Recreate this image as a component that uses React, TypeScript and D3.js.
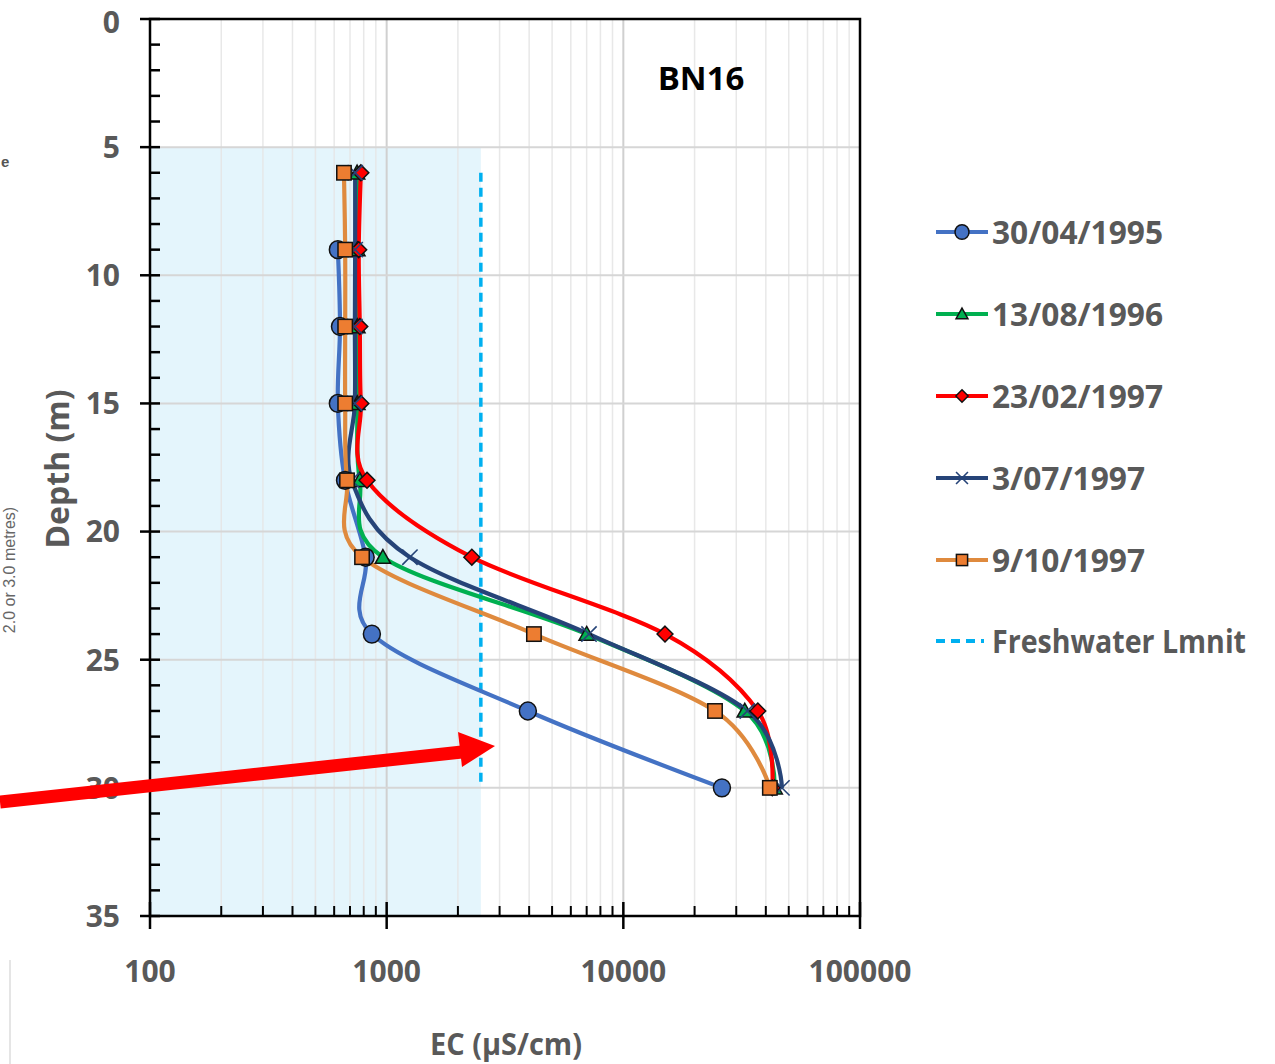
import React, { useEffect, useRef } from "react";
import * as d3 from "d3";

// depth of each sample (m)
const depths = [6, 9, 12, 15, 18, 21, 24, 27, 30];

// EC readings (uS/cm) per sampling date
const ec19950430 = [null, 622, 635, 622, 667, 815, 866, 3950, 26100];
const ec19960813 = [750, 752, 752, 752, 770, 964, 7000, 32600, 43600];
const ec19970223 = [778, 762, 770, 778, 826, 2290, 15000, 37000, 42600];
const ec19970703 = [736, 736, 734, 734, 712, 1254, 7160, 33400, 46800];
const ec19971009 = [660, 668, 668, 668, 680, 787, 4190, 24400, 41600];

const seriesNames = ["30/04/1995", "13/08/1996", "23/02/1997", "3/07/1997", "9/10/1997"];
const freshwaterLimit = 2500;
const freshwaterDepths = [6, 30];
const shadeDepths = [5, 35];

const xTickLabels = [100, 1000, 10000, 100000];
const yTickLabels = [0, 5, 10, 15, 20, 25, 30, 35];

const font = "'Open Sans', sans-serif";

export default function App() {
  const ref = useRef<SVGSVGElement>(null);

  useEffect(() => {
    const svg = d3.select(ref.current);
    svg.selectAll("*").remove();

    const left = 150, right = 860, top = 19, bottom = 916;

    const x = d3.scaleLog().domain([100, 100000]).range([left, right]);
    const y = d3.scaleLinear().domain([0, 35]).range([top, bottom]);

    // shaded freshwater zone
    svg.append("rect")
      .attr("x", x(100))
      .attr("y", y(shadeDepths[0]))
      .attr("width", x(freshwaterLimit) - x(100))
      .attr("height", y(shadeDepths[1]) - y(shadeDepths[0]))
      .attr("fill", "#e4f5fc");

    // vertical gridlines
    const minor: number[] = [];
    for (let d = 100; d < 100000; d *= 10) {
      for (let k = 2; k <= 9; k++) minor.push(d * k);
    }
    svg.append("g").selectAll("line")
      .data(minor)
      .enter().append("line")
      .attr("x1", (d) => x(d)).attr("x2", (d) => x(d))
      .attr("y1", top).attr("y2", bottom)
      .attr("stroke", "#e6e6e6")
      .attr("stroke-opacity", 0.9)
      .attr("stroke-width", 1.5);
    svg.append("g").selectAll("line")
      .data([1000, 10000])
      .enter().append("line")
      .attr("x1", (d) => x(d)).attr("x2", (d) => x(d))
      .attr("y1", top).attr("y2", bottom)
      .attr("stroke", "#d0d0d0")
      .attr("stroke-width", 2);

    // horizontal gridlines
    svg.append("g").selectAll("line")
      .data(yTickLabels.slice(1, -1))
      .enter().append("line")
      .attr("x1", left).attr("x2", right)
      .attr("y1", (d) => y(d)).attr("y2", (d) => y(d))
      .attr("stroke", "#d6d6d6")
      .attr("stroke-width", 2);

    // freshwater limit line
    svg.append("line")
      .attr("x1", x(freshwaterLimit)).attr("x2", x(freshwaterLimit))
      .attr("y1", y(freshwaterDepths[0])).attr("y2", y(freshwaterDepths[1]))
      .attr("stroke", "#00b0f0")
      .attr("stroke-width", 3.5)
      .attr("stroke-dasharray", "9,6");

    // frame
    svg.append("rect")
      .attr("x", left).attr("y", top)
      .attr("width", right - left).attr("height", bottom - top)
      .attr("fill", "none")
      .attr("stroke", "#000")
      .attr("stroke-width", 2.5);

    // y ticks
    const yMinor = d3.range(1, 35).filter((d) => d % 5 !== 0);
    svg.append("g").selectAll("line")
      .data(yMinor)
      .enter().append("line")
      .attr("x1", left).attr("x2", left + 10)
      .attr("y1", (d) => y(d)).attr("y2", (d) => y(d))
      .attr("stroke", "#000").attr("stroke-width", 2.5);
    svg.append("g").selectAll("line")
      .data(yTickLabels)
      .enter().append("line")
      .attr("x1", left - 10).attr("x2", left + 10)
      .attr("y1", (d) => y(d)).attr("y2", (d) => y(d))
      .attr("stroke", "#000").attr("stroke-width", 2.5);
    svg.append("g").selectAll("text")
      .data(yTickLabels)
      .enter().append("text")
      .attr("x", left - 30)
      .attr("y", (d) => (d === 0 ? y(d) + 3 : y(d)))
      .attr("dy", "0.36em")
      .attr("text-anchor", "end")
      .attr("font-family", font)
      .attr("font-weight", "bold")
      .attr("font-size", 30)
      .attr("fill", "#595959")
      .text((d) => d);

    // x ticks
    svg.append("g").selectAll("line")
      .data(minor)
      .enter().append("line")
      .attr("x1", (d) => x(d)).attr("x2", (d) => x(d))
      .attr("y1", bottom - 10).attr("y2", bottom)
      .attr("stroke", "#000").attr("stroke-width", 2);
    svg.append("g").selectAll("line")
      .data(xTickLabels)
      .enter().append("line")
      .attr("x1", (d) => x(d)).attr("x2", (d) => x(d))
      .attr("y1", bottom - 14).attr("y2", bottom + 13)
      .attr("stroke", "#000").attr("stroke-width", 2.5);
    svg.append("g").selectAll("text")
      .data(xTickLabels)
      .enter().append("text")
      .attr("x", (d) => x(d))
      .attr("y", 982)
      .attr("text-anchor", "middle")
      .attr("font-family", font)
      .attr("font-weight", "bold")
      .attr("font-size", 30)
      .attr("fill", "#595959")
      .text((d) => d);

    // axis titles
    svg.append("text")
      .attr("x", 430).attr("y", 1055)
      .attr("textLength", 152).attr("lengthAdjust", "spacingAndGlyphs")
      .attr("font-family", font).attr("font-weight", "bold")
      .attr("font-size", 31).attr("fill", "#595959")
      .text("EC (µS/cm)");
    svg.append("text")
      .attr("transform", "translate(69,469) rotate(-90)")
      .attr("text-anchor", "middle")
      .attr("font-family", font).attr("font-weight", "bold")
      .attr("font-size", 32).attr("fill", "#595959")
      .text("Depth (m)");

    // chart label
    svg.append("text")
      .attr("x", 701).attr("y", 90)
      .attr("text-anchor", "middle")
      .attr("font-family", font).attr("font-weight", "bold")
      .attr("font-size", 33).attr("fill", "#000")
      .text("BN16");

    const series = [
      { name: seriesNames[0], values: ec19950430, line: "#4472c4", fill: "#4472c4", marker: "circle" },
      { name: seriesNames[1], values: ec19960813, line: "#00b050", fill: "#00b050", marker: "triangle" },
      { name: seriesNames[2], values: ec19970223, line: "#ff0000", fill: "#ff0000", marker: "diamond" },
      { name: seriesNames[3], values: ec19970703, line: "#264478", fill: "#264478", marker: "cross" },
      { name: seriesNames[4], values: ec19971009, line: "#df8a3e", fill: "#ed7d31", marker: "square" },
    ];

    const lineGen = d3.line<[number, number]>()
      .x((d) => x(d[0]))
      .y((d) => y(d[1]))
      .curve(d3.curveCatmullRom.alpha(0));

    const drawMarker = (g: any, type: string, cx: number, cy: number, fill: string, size: number) => {
      if (type === "circle") {
        g.append("ellipse").attr("cx", cx).attr("cy", cy).attr("rx", size).attr("ry", size * 1.05)
          .attr("fill", fill).attr("stroke", "#111").attr("stroke-width", 1.5);
      } else if (type === "square") {
        g.append("rect").attr("x", cx - size * 0.8).attr("y", cy - size * 0.8)
          .attr("width", size * 1.6).attr("height", size * 1.6)
          .attr("fill", fill).attr("stroke", "#111").attr("stroke-width", 1.5);
      } else if (type === "diamond") {
        const s = size * 0.88;
        g.append("path").attr("d", `M${cx},${cy - s}L${cx + s},${cy}L${cx},${cy + s}L${cx - s},${cy}Z`)
          .attr("fill", fill).attr("stroke", "#111").attr("stroke-width", 1.5);
      } else if (type === "triangle") {
        const s = size * 0.85;
        g.append("path").attr("d", `M${cx},${cy - s}L${cx + s},${cy + s * 0.8}L${cx - s},${cy + s * 0.8}Z`)
          .attr("fill", fill).attr("stroke", "#111").attr("stroke-width", 1.5);
      } else if (type === "cross") {
        const s = size * 0.85;
        g.append("path").attr("d", `M${cx - s},${cy - s}L${cx + s},${cy + s}M${cx - s},${cy + s}L${cx + s},${cy - s}`)
          .attr("stroke", fill).attr("stroke-width", 1.6).attr("fill", "none");
      }
    };

    series.forEach((s) => {
      const pts = depths
        .map((d, i) => [s.values[i], d] as [number | null, number])
        .filter((p) => p[0] != null) as [number, number][];
      svg.append("path")
        .attr("d", lineGen(pts))
        .attr("fill", "none")
        .attr("stroke", s.line)
        .attr("stroke-width", 4.2);
    });

    series.forEach((s) => {
      const g = svg.append("g");
      depths.forEach((d, i) => {
        const v = s.values[i];
        if (v == null) return;
        drawMarker(g, s.marker, x(v), y(d), s.fill, s.marker === "circle" ? 8.5 : 9);
      });
    });

    // legend
    const legendY = [232, 314, 396, 478, 560, 641];
    const legendWidths = [171, 171, 171, 153, 153];
    series.forEach((s, i) => {
      const g = svg.append("g");
      g.append("line").attr("x1", 936).attr("x2", 988)
        .attr("y1", legendY[i]).attr("y2", legendY[i])
        .attr("stroke", s.line).attr("stroke-width", 4);
      drawMarker(g, s.marker, 962, legendY[i], s.fill, 7);
      g.append("text").attr("x", 992).attr("y", legendY[i])
        .attr("dy", "0.36em")
        .attr("textLength", legendWidths[i]).attr("lengthAdjust", "spacingAndGlyphs")
        .attr("font-family", font).attr("font-weight", "bold")
        .attr("font-size", 32).attr("fill", "#595959")
        .text(s.name);
    });
    svg.append("line").attr("x1", 936).attr("x2", 984)
      .attr("y1", legendY[5]).attr("y2", legendY[5])
      .attr("stroke", "#00b0f0").attr("stroke-width", 4)
      .attr("stroke-dasharray", "9,6");
    svg.append("text").attr("x", 992).attr("y", legendY[5])
      .attr("dy", "0.36em")
      .attr("textLength", 254).attr("lengthAdjust", "spacingAndGlyphs")
      .attr("font-family", font).attr("font-weight", "bold")
      .attr("font-size", 32).attr("fill", "#595959")
      .text("Freshwater Lmnit");

    // leftover edge of a neighbouring figure
    svg.append("text").attr("x", 1).attr("y", 167)
      .attr("font-family", "'Liberation Sans', sans-serif").attr("font-size", 15)
      .attr("font-weight", "bold")
      .attr("fill", "#555").text("e");
    svg.append("text")
      .attr("transform", "translate(15,570) rotate(-90)")
      .attr("text-anchor", "middle")
      .attr("font-family", "'Liberation Sans', sans-serif").attr("font-size", 16)
      .attr("fill", "#666").text("2.0 or 3.0 metres)");
    svg.append("line").attr("x1", 10).attr("x2", 10).attr("y1", 960).attr("y2", 1064)
      .attr("stroke", "#ddd").attr("stroke-width", 1.5);

    // red annotation arrow
    svg.append("line")
      .attr("x1", 0).attr("y1", 802).attr("x2", 462).attr("y2", 752)
      .attr("stroke", "#ff0000").attr("stroke-width", 13);
    svg.append("path")
      .attr("d", "M458,732L495,746L462,767Z")
      .attr("fill", "#ff0000");
  }, []);

  return (
    <svg ref={ref} width={1275} height={1064}
      style={{ position: "absolute", left: 0, top: 0, background: "#fff" }} />
  );
}
